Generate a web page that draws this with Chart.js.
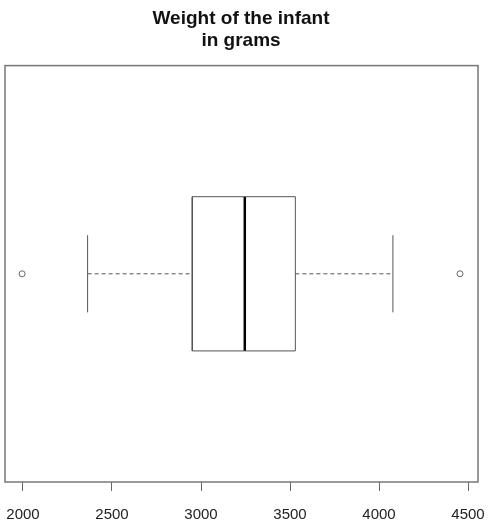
<!DOCTYPE html>
<html>
<head>
<meta charset="utf-8">
<script src="https://cdn.jsdelivr.net/npm/chart.js@4"></script>
<style>
  html, body { margin: 0; padding: 0; background: #fff; }
  canvas { display: block; }
</style>
</head>
<body>
<canvas id="box-chart" width="491" height="524"></canvas>
<script>
// five-number summary: lower whisker, Q1, median, Q3, upper whisker
var stats = [2363, 2951, 3246, 3530, 4078];
var outliers = [1995, 4455];
var tickValues = [2000, 2500, 3000, 3500, 4000, 4500];

var lo = stats[0], q1 = stats[1], med = stats[2], q3 = stats[3], hi = stats[4];

function seg(points, extra) {
    var ds = {
        data: points.map(function (p) { return { x: p[0], y: p[1] }; }),
        showLine: true,
        pointRadius: 0,
        borderColor: "#555",
        borderWidth: 1,
        fill: false
    };
    for (var k in extra) ds[k] = extra[k];
    return ds;
}

var frame = {
    id: 'frame',
    afterDraw: function (chart) {
        var a = chart.chartArea, ctx = chart.ctx;
        ctx.save();
        ctx.strokeStyle = "#777";
        ctx.lineWidth = 1.5;
        ctx.strokeRect(a.left, a.top, a.right - a.left, a.bottom - a.top);
        ctx.restore();
    }
};

new Chart(document.getElementById("box-chart"), {
    type: 'scatter',
    data: {
        datasets: [
            seg([[q1, 0.8], [q3, 0.8], [q3, 1.2], [q1, 1.2], [q1, 0.8]]),
            seg([[med, 0.8], [med, 1.2]], { borderColor: "#000", borderWidth: 2.5 }),
            seg([[lo, 1], [q1, 1]], { borderDash: [4, 3] }),
            seg([[q3, 1], [hi, 1]], { borderDash: [4, 3] }),
            seg([[lo, 0.9], [lo, 1.1]]),
            seg([[hi, 0.9], [hi, 1.1]]),
            {
                data: outliers.map(function (v) { return { x: v, y: 1 }; }),
                showLine: false,
                pointRadius: 3,
                pointBorderColor: "#666",
                pointBackgroundColor: "#fff",
                pointBorderWidth: 1
            }
        ]
    },
    options: {
        responsive: false,
        animation: false,
        layout: { padding: { left: 4, right: 13, top: 0, bottom: 0 } },
        plugins: {
            legend: { display: false },
            tooltip: { enabled: false },
            title: {
                display: true,
                text: ['Weight of the infant', 'in grams'],
                color: '#111',
                font: { family: 'Liberation Sans, Arial', size: 19, weight: 'bold' },
                lineHeight: 1.2,
                padding: { top: 7, bottom: 13 }
            }
        },
        scales: {
            x: {
                type: 'linear',
                min: 1899,
                max: 4556,
                afterBuildTicks: function (axis) {
                    axis.ticks = tickValues.map(function (v) { return { value: v }; });
                },
                afterFit: function (axis) {
                    axis.height = 42;
                    axis.paddingLeft = 0;
                    axis.paddingRight = 0;
                },
                grid: { drawOnChartArea: false, drawTicks: true, tickLength: 9, color: '#666' },
                border: { display: false },
                ticks: {
                    color: '#222',
                    padding: 15,
                    maxRotation: 0,
                    autoSkip: false,
                    font: { family: 'Liberation Sans, Arial', size: 15 },
                    callback: function (v) { return String(v); }
                }
            },
            y: {
                type: 'linear',
                min: 0.46,
                max: 1.54,
                display: false
            }
        }
    },
    plugins: [frame]
});
</script>
</body>
</html>
